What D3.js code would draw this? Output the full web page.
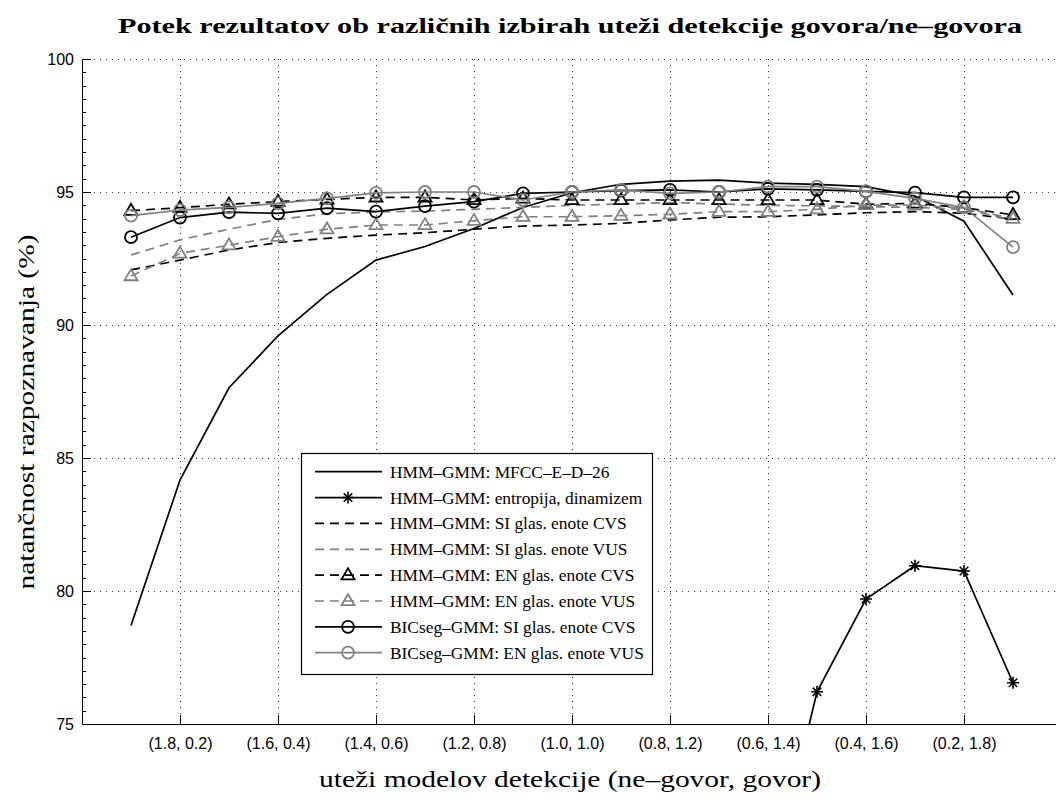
<!DOCTYPE html>
<html>
<head>
<meta charset="utf-8">
<script src="https://cdn.jsdelivr.net/npm/d3@7"></script>
<style>
  html, body { margin: 0; padding: 0; background: #fff; }
  svg { display: block; }
</style>
</head>
<body>
<svg id="chart" width="1056" height="800"></svg>
<script>
// Non-speech model weight of each measured point (speech weight = 2 - value)
const nonSpeechWeights = [1.9, 1.8, 1.7, 1.6, 1.5, 1.4, 1.3, 1.2, 1.1, 1.0, 0.9, 0.8, 0.7, 0.6, 0.5, 0.4, 0.3, 0.2, 0.1];

// Labelled x ticks
const tickWeights = [1.8, 1.6, 1.4, 1.2, 1.0, 0.8, 0.6, 0.4, 0.2];
const tickLabels = ["(1.8, 0.2)", "(1.6, 0.4)", "(1.4, 0.6)", "(1.2, 0.8)", "(1.0, 1.0)", "(0.8, 1.2)", "(0.6, 1.4)", "(0.4, 1.6)", "(0.2, 1.8)"];
const yTicks = [75, 80, 85, 90, 95, 100];

// Recognition accuracy (%) for each system
const mfccED26     = [78.70, 84.17, 87.64, 89.59, 91.15, 92.44, 92.95, 93.63, 94.42, 94.97, 95.29, 95.41, 95.45, 95.33, 95.29, 95.20, 94.85, 93.90, 91.13];
const entropyDyn   = [null, null, null, null, null, null, null, null, null, null, null, null, null, 68.5, 76.21, 79.70, 80.95, 80.75, 76.55];
const hmmSiCvs     = [92.07, 92.44, 92.82, 93.10, 93.26, 93.38, 93.47, 93.60, 93.72, 93.76, 93.82, 93.95, 94.05, 94.07, 94.14, 94.22, 94.26, 94.20, 93.98];
const hmmSiVus     = [92.63, 93.20, 93.60, 93.97, 94.18, 94.25, 94.28, 94.35, 94.42, 94.50, 94.55, 94.60, 94.55, 94.50, 94.48, 94.45, 94.42, 94.35, 93.95];
const hmmEnCvs     = [94.30, 94.41, 94.54, 94.64, 94.72, 94.80, 94.80, 94.70, 94.76, 94.70, 94.70, 94.70, 94.70, 94.70, 94.70, 94.54, 94.57, 94.41, 94.14];
const hmmEnVus     = [91.84, 92.69, 93.00, 93.32, 93.60, 93.76, 93.76, 93.92, 94.07, 94.07, 94.11, 94.16, 94.26, 94.26, 94.35, 94.51, 94.50, 94.40, 94.00];
const bicSiCvs     = [93.30, 94.04, 94.24, 94.20, 94.39, 94.26, 94.47, 94.64, 94.95, 95.00, 95.05, 95.08, 95.00, 95.12, 95.08, 95.02, 94.98, 94.80, 94.80];
const bicEnVus     = [94.11, 94.32, 94.42, 94.57, 94.76, 94.97, 95.00, 95.00, 94.70, 95.00, 95.08, 94.95, 95.00, 95.20, 95.20, 95.02, 94.76, 94.42, 92.93];

const seriesNames = [
  "HMM–GMM: MFCC–E–D–26",
  "HMM–GMM: entropija, dinamizem",
  "HMM–GMM: SI glas. enote CVS",
  "HMM–GMM: SI glas. enote VUS",
  "HMM–GMM: EN glas. enote CVS",
  "HMM–GMM: EN glas. enote VUS",
  "BICseg–GMM: SI glas. enote CVS",
  "BICseg–GMM: EN glas. enote VUS"
];

const BLACK = "#000000", GREY = "#808080";
const series = [
  { name: seriesNames[0], values: mfccED26,   color: BLACK, dash: null,  marker: null },
  { name: seriesNames[1], values: entropyDyn, color: BLACK, dash: null,  marker: "star" },
  { name: seriesNames[2], values: hmmSiCvs,   color: BLACK, dash: "9,6", marker: null },
  { name: seriesNames[3], values: hmmSiVus,   color: GREY,  dash: "9,6", marker: null },
  { name: seriesNames[4], values: hmmEnCvs,   color: BLACK, dash: "9,6", marker: "tri" },
  { name: seriesNames[5], values: hmmEnVus,   color: GREY,  dash: "9,6", marker: "tri" },
  { name: seriesNames[6], values: bicSiCvs,   color: BLACK, dash: null,  marker: "circle" },
  { name: seriesNames[7], values: bicEnVus,   color: GREY,  dash: null,  marker: "circle" }
];

const svg = d3.select("#chart");
const plot = { left: 82, top: 59, right: 1062, bottom: 724 };

const x = d3.scaleLinear().domain([2.0, 0.0]).range([plot.left, plot.right]);
const y = d3.scaleLinear().domain([75, 100]).range([plot.bottom, plot.top]);

const serif = "'Liberation Serif', 'DejaVu Serif', serif";
const sans = "'Liberation Sans', Arial, sans-serif";

// Scale a text element's font size so that it spans the given width
function fitWidth(sel, width) {
  const node = sel.node();
  const fs = parseFloat(sel.attr("font-size"));
  const w = node.getComputedTextLength();
  if (w > 0) sel.attr("font-size", (fs * width / w).toFixed(2));
  return sel;
}
// Stretch a text element horizontally by the given factor (wide serif look)
function stretch(sel, factor) {
  const w = sel.node().getComputedTextLength();
  sel.attr("textLength", (w * factor).toFixed(1)).attr("lengthAdjust", "spacingAndGlyphs");
  return sel;
}

svg.append("defs").append("clipPath").attr("id", "plotClip")
  .append("rect")
  .attr("x", plot.left).attr("y", plot.top)
  .attr("width", plot.right - plot.left).attr("height", plot.bottom - plot.top);

// Dotted grid
const grid = svg.append("g").attr("stroke", "#333").attr("stroke-width", 1).attr("stroke-dasharray", "1,5");
grid.selectAll("line.gx").data(tickWeights).join("line")
  .attr("x1", d => Math.round(x(d)) + 0.5).attr("x2", d => Math.round(x(d)) + 0.5)
  .attr("y1", plot.top).attr("y2", plot.bottom);
grid.selectAll("line.gy").data(yTicks.filter(v => v > 75)).join("line")
  .attr("x1", plot.left).attr("x2", plot.right)
  .attr("y1", d => Math.round(y(d)) + 0.5).attr("y2", d => Math.round(y(d)) + 0.5);

// Axes (ticks point inward)
const xAxis = d3.axisBottom(x).tickValues(tickWeights).tickFormat((d, i) => tickLabels[i])
  .tickSizeInner(-9).tickSizeOuter(0).tickPadding(14);
const gx = svg.append("g").attr("transform", `translate(0,${plot.bottom})`).call(xAxis);
gx.select(".domain").attr("stroke", "#000").attr("stroke-width", 1);
gx.selectAll(".tick line").attr("stroke", "#000");
gx.selectAll("text").attr("font-family", sans).attr("font-size", 16).attr("fill", "#000");

const yAxis = d3.axisLeft(y).tickValues(yTicks).tickFormat(d3.format("d"))
  .tickSizeInner(-9).tickSizeOuter(0).tickPadding(8);
const gy = svg.append("g").attr("transform", `translate(${plot.left},0)`).call(yAxis);
gy.select(".domain").attr("stroke", "#000").attr("stroke-width", 1);
gy.selectAll(".tick line").attr("stroke", "#000");
gy.selectAll("text").attr("font-family", sans).attr("font-size", 16).attr("fill", "#000");

// Minor y ticks
svg.append("g").selectAll("line").data(d3.range(75.5, 100, 0.5).filter(v => v % 5 !== 0)).join("line")
  .attr("x1", plot.left).attr("x2", plot.left + 4)
  .attr("y1", d => Math.round(y(d)) + 0.5).attr("y2", d => Math.round(y(d)) + 0.5)
  .attr("stroke", "#000").attr("stroke-width", 1);

// Marker shapes
function drawMarker(g, kind, cx, cy, color) {
  if (kind === "circle") {
    g.append("circle").attr("cx", cx).attr("cy", cy).attr("r", 6)
      .attr("fill", "none").attr("stroke", color).attr("stroke-width", 1.8);
  } else if (kind === "tri") {
    const h = 11, w = 13;
    g.append("path")
      .attr("d", `M${cx},${cy - h * 0.62}L${cx + w / 2},${cy + h * 0.38}L${cx - w / 2},${cy + h * 0.38}Z`)
      .attr("fill", "none").attr("stroke", color).attr("stroke-width", 1.8);
  } else if (kind === "star") {
    const r = 6;
    let d = "";
    for (let k = 0; k < 4; k++) {
      const a = k * Math.PI / 4;
      d += `M${cx - r * Math.cos(a)},${cy - r * Math.sin(a)}L${cx + r * Math.cos(a)},${cy + r * Math.sin(a)}`;
    }
    g.append("path").attr("d", d).attr("stroke", color).attr("stroke-width", 1.6).attr("fill", "none");
  }
}

// Series lines and markers
const plotArea = svg.append("g").attr("clip-path", "url(#plotClip)");
const line = d3.line()
  .defined(d => d.v !== null)
  .x(d => x(d.w)).y(d => y(d.v));

series.forEach(s => {
  const pts = nonSpeechWeights.map((w, i) => ({ w, v: s.values[i] }));
  plotArea.append("path")
    .datum(pts)
    .attr("d", line)
    .attr("fill", "none")
    .attr("stroke", s.color)
    .attr("stroke-width", 1.7)
    .attr("stroke-dasharray", s.dash);
  if (s.marker) {
    const mg = plotArea.append("g");
    pts.filter(p => p.v !== null).forEach(p => drawMarker(mg, s.marker, x(p.w), y(p.v), s.color));
  }
});

// Legend
const legend = { left: 301, top: 453, right: 652, bottom: 674, rowGap: 25.86, firstRow: 471.7 };
svg.append("rect")
  .attr("x", legend.left + 0.5).attr("y", legend.top + 0.5)
  .attr("width", legend.right - legend.left).attr("height", legend.bottom - legend.top)
  .attr("fill", "#fff").attr("stroke", "#000").attr("stroke-width", 1.2);
const lg = svg.append("g");
const legendTexts = [];
series.forEach((s, i) => {
  const cy = legend.firstRow + i * legend.rowGap;
  lg.append("line")
    .attr("x1", 315).attr("x2", 382).attr("y1", cy).attr("y2", cy)
    .attr("stroke", s.color).attr("stroke-width", 1.7)
    .attr("stroke-dasharray", s.dash);
  if (s.marker) drawMarker(lg, s.marker, 348, cy, s.color);
  legendTexts.push(lg.append("text")
    .attr("x", 390).attr("y", cy + 6)
    .attr("font-family", serif).attr("font-size", 17).attr("fill", "#000")
    .text(s.name));
});
// Common legend font size, set by the widest entry
{
  const widest = legendTexts[legendTexts.length - 1];
  fitWidth(widest, 254);
  const fs = widest.attr("font-size");
  legendTexts.forEach(t => t.attr("font-size", fs));
}

// Title: bold serif stretched to a wide cut
{
  const title = svg.append("text")
    .attr("x", (plot.left + plot.right) / 2 - 2).attr("y", 33)
    .attr("text-anchor", "middle")
    .attr("font-family", serif).attr("font-weight", "bold").attr("font-size", 21)
    .attr("fill", "#000")
    .text("Potek rezultatov ob različnih izbirah uteži detekcije govora/ne–govora");
  const w = title.node().getComputedTextLength();
  stretch(title, 904 / w);
}

// Axis labels share one size and one horizontal stretch
{
  const yLabel = svg.append("text")
    .attr("transform", `translate(34,412) rotate(-90)`)
    .attr("text-anchor", "middle")
    .attr("font-family", serif).attr("font-size", 24).attr("fill", "#000")
    .text("natančnost razpoznavanja (%)");
  const factor = 355 / yLabel.node().getComputedTextLength();
  stretch(yLabel, factor);

  const xLabel = svg.append("text")
    .attr("x", (plot.left + plot.right) / 2 - 2).attr("y", 787)
    .attr("text-anchor", "middle")
    .attr("font-family", serif).attr("font-size", 24).attr("fill", "#000")
    .text("uteži modelov detekcije (ne–govor, govor)");
  stretch(xLabel, factor);
}
</script>
</body>
</html>
